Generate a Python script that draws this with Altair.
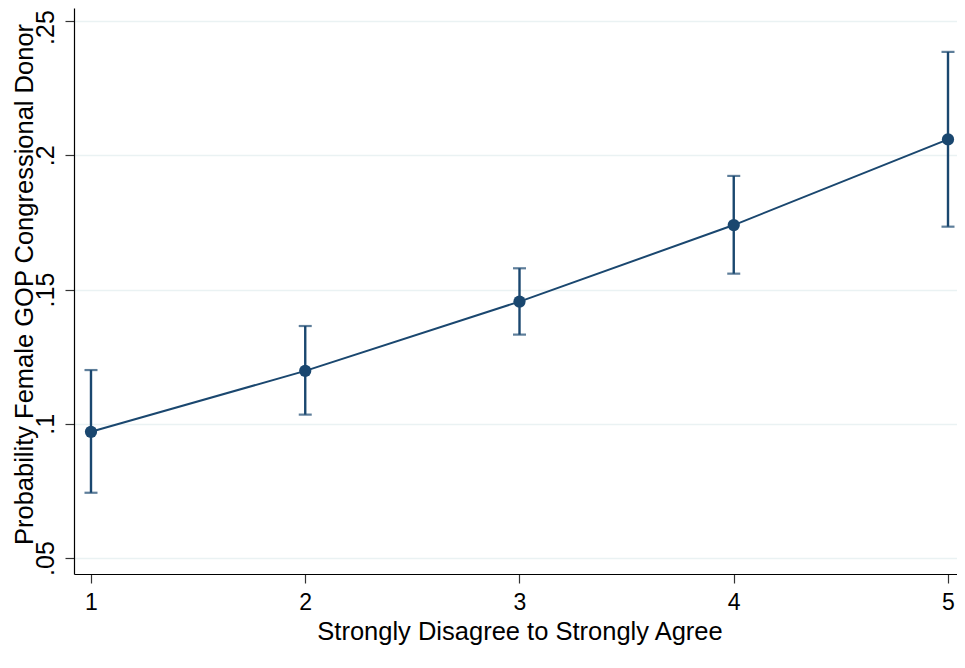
import altair as alt
import pandas as pd

# Data
agreement = [1, 2, 3, 4, 5]
probability = [0.0970, 0.1197, 0.1455, 0.1740, 0.2059]
ci_low = [0.0743, 0.1034, 0.1332, 0.1559, 0.1734]
ci_high = [0.1200, 0.1364, 0.1579, 0.1923, 0.2385]
y_ticks = [0.05, 0.10, 0.15, 0.20, 0.25]
x_ticks = [1, 2, 3, 4, 5]

df = pd.DataFrame({"x": agreement, "p": probability, "lo": ci_low, "hi": ci_high})

NAVY = "#1a476f"
FONT = "Liberation Sans"

xscale = alt.Scale(domain=[0.9207, 5.042], nice=False, zero=False)
yscale = alt.Scale(domain=[0.044041, 0.254842], nice=False, zero=False)

xaxis = alt.Axis(
    title="Strongly Disagree to Strongly Agree",
    values=x_ticks, format="d", grid=False,
    domainColor="#000000", domainWidth=1.2,
    tickColor="#333333", tickSize=9, tickWidth=1.2,
    labelFont=FONT, labelFontSize=23, labelColor="#000000",
    labelBaseline="alphabetic", labelPadding=26,
    titleFont=FONT, titleFontSize=25.5, titleFontWeight="normal", titleColor="#000000",
    titleBaseline="alphabetic", titleX=445.5, titleY=65, titleAlign="center",
)
yaxis = alt.Axis(
    title="Probability Female GOP Congressional Donor",
    values=y_ticks,
    labelExpr="replace(format(datum.value, '.2~f'), /^0/, '')",
    grid=True, gridColor="#eaf2f3", gridWidth=1.6,
    domainColor="#000000", domainWidth=1.2,
    tickColor="#333333", tickSize=9, tickWidth=1.2,
    labelFont=FONT, labelFontSize=25, labelColor="#000000",
    labelAngle=-90, labelAlign="center", labelBaseline="alphabetic", labelPadding=12,
    labelOffset={"condition": {"test": "datum.value > 0.24", "value": 6}, "value": 0},
    labelBound=False,
    titleFont=FONT, titleFontSize=25.5, titleFontWeight="normal", titleColor="#000000",
    titleAngle=-90, titleBaseline="alphabetic", titleAlign="center",
    titleX=-42, titleY=276,
)

base = alt.Chart(df)

line = base.mark_line(color=NAVY, strokeWidth=2).encode(
    x=alt.X("x:Q", scale=xscale, axis=xaxis),
    y=alt.Y("p:Q", scale=yscale, axis=yaxis),
)
bars = base.mark_rule(color=NAVY, strokeWidth=2.4).encode(
    x="x:Q", y="lo:Q", y2="hi:Q"
)
cap_lo = base.mark_tick(color=NAVY, size=13, thickness=2.2, orient="horizontal").encode(
    x="x:Q", y="lo:Q"
)
cap_hi = base.mark_tick(color=NAVY, size=13, thickness=2.2, orient="horizontal").encode(
    x="x:Q", y="hi:Q"
)
points = base.mark_circle(color=NAVY, size=150, opacity=1).encode(
    x="x:Q", y="p:Q"
)

chart = (
    alt.layer(line, bars, cap_lo, cap_hi, points)
    .properties(
        width=883, height=566,
        autosize=alt.AutoSizeParams(type="none"),
        padding={"left": 66, "top": 0, "right": 0, "bottom": 80},
        background="#ffffff",
    )
    .configure_view(stroke=None)
)

chart.save("out.html", embed_options={"renderer": "svg", "actions": False})
